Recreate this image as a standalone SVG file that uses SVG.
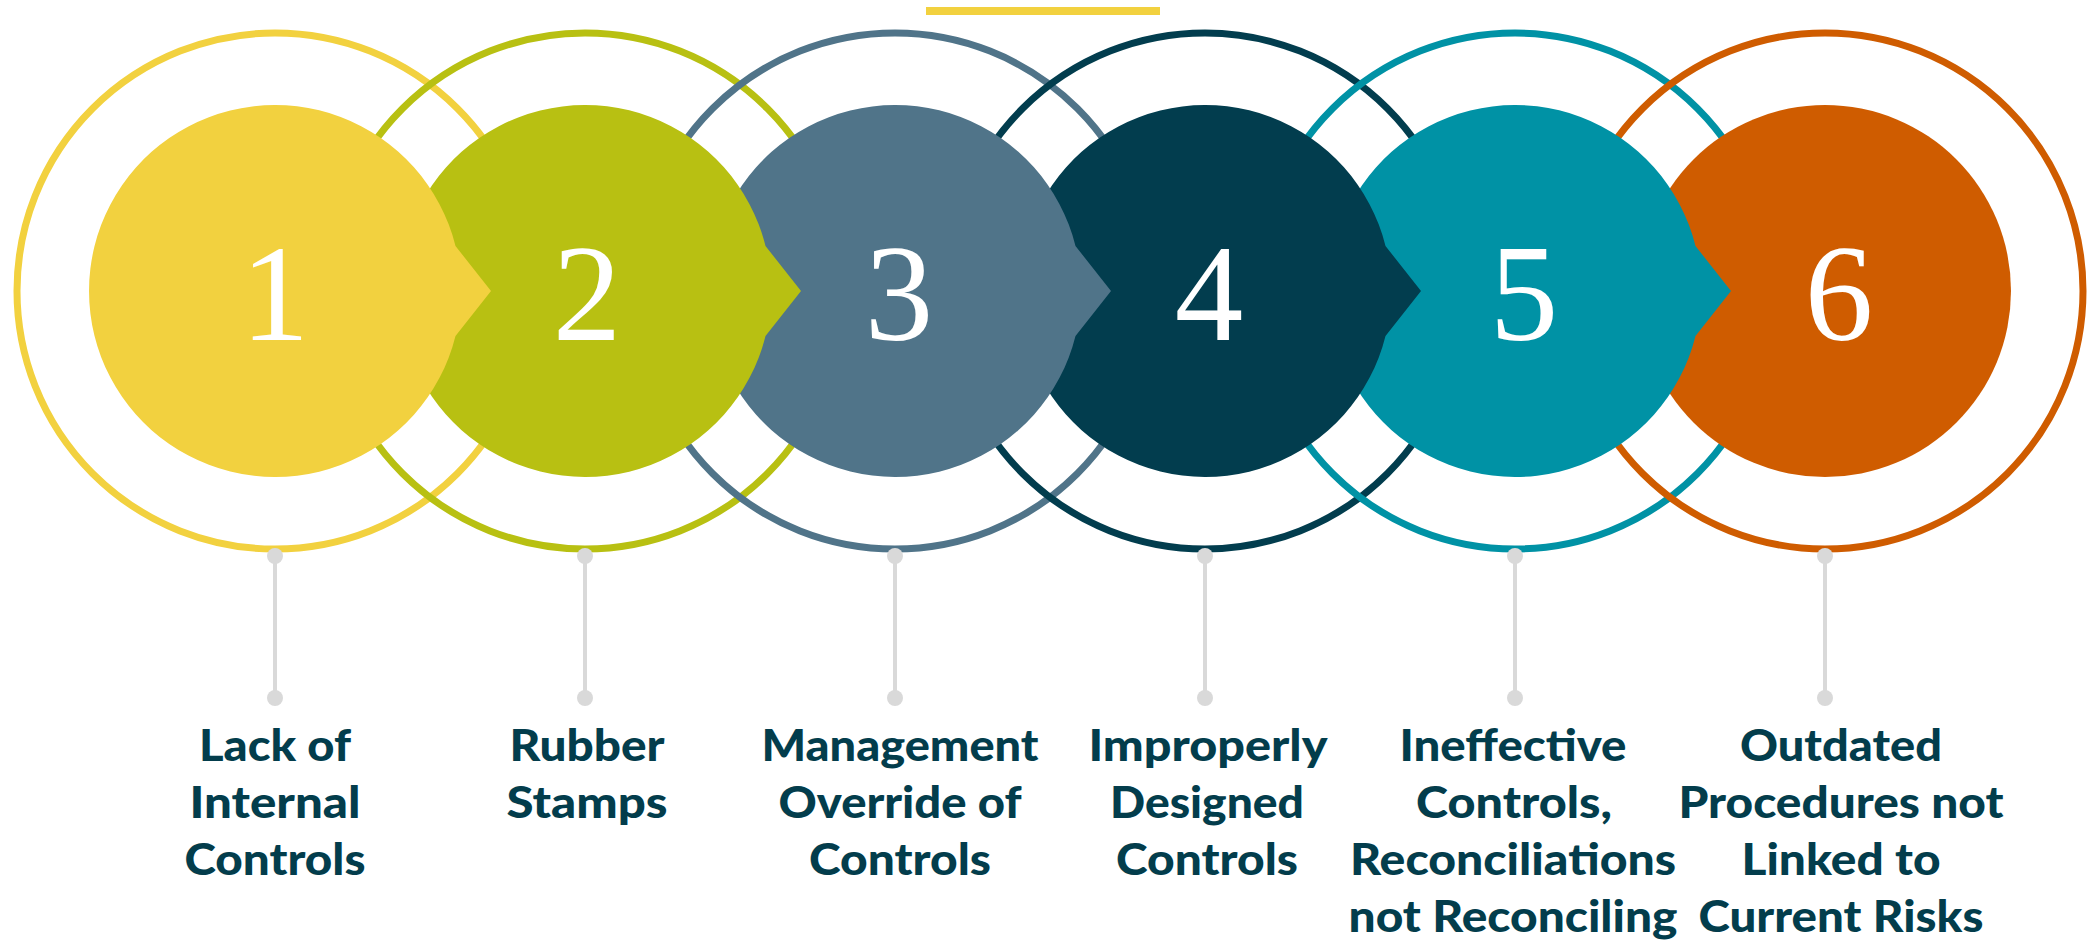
<svg xmlns="http://www.w3.org/2000/svg" width="2092" height="946" viewBox="0 0 2092 946">
  <style>
    .ring { fill: none; stroke-width: 7; }
    .num { font-family: "Liberation Serif", "DejaVu Serif", serif; font-size: 137px; fill: #ffffff; text-anchor: middle; }
    .label { font-family: Lato, "Liberation Sans", sans-serif; font-weight: 900; font-size: 44px; fill: #033d4c; text-anchor: middle; }
    .stem { stroke: #d9d9d9; stroke-width: 4; }
    .dot { fill: #d9d9d9; }
  </style>
  <rect width="2092" height="946" fill="#ffffff"/>

  <!-- accent bar -->
  <rect x="926" y="7" width="234" height="8" fill="#f2d13f"/>

  <!-- outer rings -->
  <g id="rings">
    <circle class="ring" cx="275" cy="291" r="258" stroke="#f2d13f"/>
    <circle class="ring" cx="585" cy="291" r="258" stroke="#b8c012"/>
    <circle class="ring" cx="895" cy="291" r="258" stroke="#507489"/>
    <circle class="ring" cx="1205" cy="291" r="258" stroke="#023d4e"/>
    <circle class="ring" cx="1515" cy="291" r="258" stroke="#0092a5"/>
    <circle class="ring" cx="1825" cy="291" r="258" stroke="#cf5c00"/>
  </g>

  <!-- step discs, drawn right to left so each arrow overlaps the next disc -->
  <g id="step6">
    <circle cx="1825" cy="291" r="186" fill="#cf5c00"/>
    <text class="num" x="1839" y="340">6</text>
  </g>
  <g id="step5">
    <path d="M1695.5,336 A186,186 0 1 1 1695.5,246 L1731,291 Z" fill="#0092a5"/>
    <text class="num" x="1524" y="340">5</text>
  </g>
  <g id="step4">
    <path d="M1385.5,336 A186,186 0 1 1 1385.5,246 L1421,291 Z" fill="#023d4e"/>
    <text class="num" x="1209" y="340">4</text>
  </g>
  <g id="step3">
    <path d="M1075.5,336 A186,186 0 1 1 1075.5,246 L1111,291 Z" fill="#507489"/>
    <text class="num" x="899" y="340">3</text>
  </g>
  <g id="step2">
    <path d="M765.5,336 A186,186 0 1 1 765.5,246 L801,291 Z" fill="#b8c012"/>
    <text class="num" x="587" y="340">2</text>
  </g>
  <g id="step1">
    <path d="M455.5,336 A186,186 0 1 1 455.5,246 L491,291 Z" fill="#f2d13f"/>
    <text class="num" x="275" y="340">1</text>
  </g>

  <!-- leader lines from rings to labels -->
  <g id="connectors">
    <line class="stem" x1="275" y1="556" x2="275" y2="698"/>
    <circle class="dot" cx="275" cy="556" r="8"/>
    <circle class="dot" cx="275" cy="698" r="8"/>
    <line class="stem" x1="585" y1="556" x2="585" y2="698"/>
    <circle class="dot" cx="585" cy="556" r="8"/>
    <circle class="dot" cx="585" cy="698" r="8"/>
    <line class="stem" x1="895" y1="556" x2="895" y2="698"/>
    <circle class="dot" cx="895" cy="556" r="8"/>
    <circle class="dot" cx="895" cy="698" r="8"/>
    <line class="stem" x1="1205" y1="556" x2="1205" y2="698"/>
    <circle class="dot" cx="1205" cy="556" r="8"/>
    <circle class="dot" cx="1205" cy="698" r="8"/>
    <line class="stem" x1="1515" y1="556" x2="1515" y2="698"/>
    <circle class="dot" cx="1515" cy="556" r="8"/>
    <circle class="dot" cx="1515" cy="698" r="8"/>
    <line class="stem" x1="1825" y1="556" x2="1825" y2="698"/>
    <circle class="dot" cx="1825" cy="556" r="8"/>
    <circle class="dot" cx="1825" cy="698" r="8"/>
  </g>

  <!-- labels -->
  <g id="label1">
    <text class="label" x="275" y="761" textLength="152" lengthAdjust="spacingAndGlyphs">Lack of</text>
    <text class="label" x="275" y="818" textLength="171" lengthAdjust="spacingAndGlyphs">Internal</text>
    <text class="label" x="275" y="875" textLength="181" lengthAdjust="spacingAndGlyphs">Controls</text>
  </g>
  <g id="label2">
    <text class="label" x="587" y="761" textLength="155" lengthAdjust="spacingAndGlyphs">Rubber</text>
    <text class="label" x="587" y="818" textLength="161" lengthAdjust="spacingAndGlyphs">Stamps</text>
  </g>
  <g id="label3">
    <text class="label" x="900" y="761" textLength="277" lengthAdjust="spacingAndGlyphs">Management</text>
    <text class="label" x="900" y="818" textLength="243" lengthAdjust="spacingAndGlyphs">Override of</text>
    <text class="label" x="900" y="875" textLength="182" lengthAdjust="spacingAndGlyphs">Controls</text>
  </g>
  <g id="label4">
    <text class="label" x="1208" y="761" textLength="239" lengthAdjust="spacingAndGlyphs">Improperly</text>
    <text class="label" x="1207" y="818" textLength="194" lengthAdjust="spacingAndGlyphs">Designed</text>
    <text class="label" x="1207" y="875" textLength="182" lengthAdjust="spacingAndGlyphs">Controls</text>
  </g>
  <g id="label5">
    <text class="label" x="1513" y="761" textLength="227" lengthAdjust="spacingAndGlyphs">Ineffective</text>
    <text class="label" x="1514" y="818" textLength="196" lengthAdjust="spacingAndGlyphs">Controls,</text>
    <text class="label" x="1513" y="875" textLength="326" lengthAdjust="spacingAndGlyphs">Reconciliations</text>
    <text class="label" x="1513" y="932" textLength="329" lengthAdjust="spacingAndGlyphs">not Reconciling</text>
  </g>
  <g id="label6">
    <text class="label" x="1841" y="761" textLength="202" lengthAdjust="spacingAndGlyphs">Outdated</text>
    <text class="label" x="1841" y="818" textLength="325" lengthAdjust="spacingAndGlyphs">Procedures not</text>
    <text class="label" x="1841" y="875" textLength="199" lengthAdjust="spacingAndGlyphs">Linked to</text>
    <text class="label" x="1841" y="932" textLength="285" lengthAdjust="spacingAndGlyphs">Current Risks</text>
  </g>
</svg>
